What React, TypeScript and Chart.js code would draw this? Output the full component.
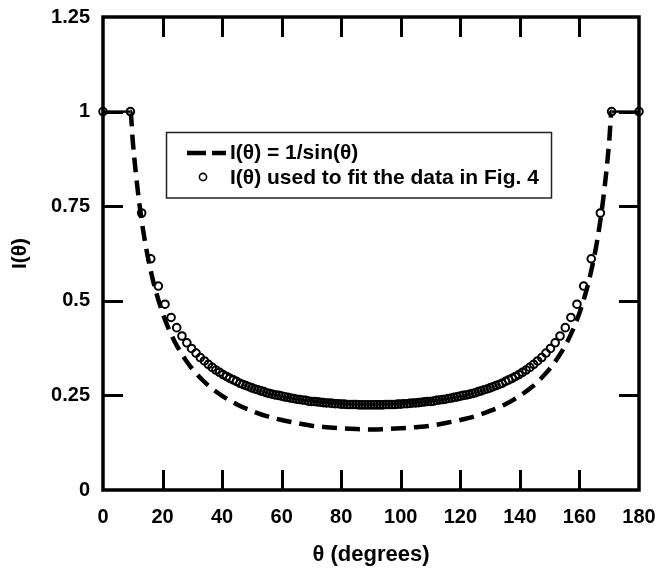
import React, { useEffect, useRef } from "react";
import { Chart, registerables } from "chart.js";

Chart.register(...registerables);

// ---- data ----
const xTicks = [0, 20, 40, 60, 80, 100, 120, 140, 160, 180];
const yTicks = [0, 0.25, 0.5, 0.75, 1, 1.25];

const legendLabels = ["I(θ) = 1/sin(θ)", "I(θ) used to fit the data in Fig. 4"];
const xTitle = "θ (degrees)";
const yTitle = "I(θ)";

// dashed curve I(θ) = 1/sin(θ) (scaled, capped at 1)
const thetaDash = [
  0, 9.2, 10, 11, 12, 13, 14, 15, 16, 17, 18, 20, 22, 24, 26, 28, 30, 33, 36, 40, 45, 50, 55, 60, 65, 70,
  75, 80, 85, 90, 95, 100, 105, 110, 115, 120, 125, 130, 135, 140, 144, 147, 150, 152, 154, 156, 158,
  160, 162, 163, 164, 165, 166, 167, 168, 169, 170, 170.8, 180,
];
const iDash = [
  1, 1, 0.922, 0.839, 0.77, 0.711, 0.661, 0.618, 0.581, 0.547, 0.518, 0.468, 0.427, 0.393, 0.365, 0.341,
  0.32, 0.294, 0.272, 0.249, 0.226, 0.209, 0.195, 0.185, 0.177, 0.17, 0.166, 0.163, 0.161, 0.16, 0.161,
  0.163, 0.166, 0.17, 0.177, 0.185, 0.195, 0.209, 0.226, 0.249, 0.272, 0.294, 0.32, 0.341, 0.365, 0.393,
  0.427, 0.468, 0.518, 0.547, 0.581, 0.618, 0.661, 0.711, 0.77, 0.839, 0.922, 1, 1,
];

// open circles: I(θ) used to fit the data
const thetaFit = [
  0, 9.2,
  12.98, 16.04, 18.58, 20.83, 22.87, 24.75, 26.51, 28.16, 29.73, 31.24, 32.67, 34.05, 35.37, 36.67,
  37.91, 39.15, 40.33, 41.49, 42.63, 43.74, 44.82,
  46, 47, 48, 49, 50, 51, 52, 53, 54, 55, 56, 57, 58, 59, 60, 61, 62, 63, 64, 65, 66, 67, 68, 69, 70,
  71, 72, 73, 74, 75, 76, 77, 78, 79, 80, 81, 82, 83, 84, 85, 86, 87, 88, 89, 90,
  91, 92, 93, 94, 95, 96, 97, 98, 99, 100, 101, 102, 103, 104, 105, 106, 107, 108, 109, 110, 111, 112,
  113, 114, 115, 116, 117, 118, 119, 120, 121, 122, 123, 124, 125, 126, 127, 128, 129, 130, 131, 132,
  133, 134,
  135.18, 136.26, 137.37, 138.51, 139.67, 140.85, 142.09, 143.33, 144.63, 145.95, 147.33, 148.76,
  150.27, 151.84, 153.49, 155.25, 157.13, 159.17, 161.42, 163.96, 167.02,
  170.8, 180,
];
const iFit = [
  1, 1,
  0.732, 0.611, 0.539, 0.491, 0.456, 0.429, 0.407, 0.389, 0.374, 0.362, 0.35, 0.341, 0.332, 0.324,
  0.317, 0.311, 0.305, 0.3, 0.295, 0.291, 0.287,
  0.282, 0.279, 0.276, 0.273, 0.27, 0.267, 0.265, 0.262, 0.26, 0.257, 0.255, 0.253, 0.251, 0.25, 0.248,
  0.246, 0.245, 0.243, 0.242, 0.24, 0.239, 0.238, 0.237, 0.235, 0.234, 0.234, 0.233, 0.232, 0.231, 0.23,
  0.23, 0.229, 0.228, 0.228, 0.227, 0.227, 0.226, 0.226, 0.226, 0.226, 0.225, 0.225, 0.225, 0.225, 0.225,
  0.225, 0.225, 0.225, 0.225, 0.226, 0.226, 0.226, 0.226, 0.227, 0.227, 0.228, 0.228, 0.229, 0.23, 0.23,
  0.231, 0.232, 0.233, 0.234, 0.234, 0.235, 0.237, 0.238, 0.239, 0.24, 0.242, 0.243, 0.245, 0.246, 0.248,
  0.25, 0.251, 0.253, 0.255, 0.257, 0.26, 0.262, 0.265, 0.267, 0.27, 0.273, 0.276, 0.279, 0.282,
  0.287, 0.291, 0.295, 0.3, 0.305, 0.311, 0.317, 0.324, 0.332, 0.341, 0.35, 0.362, 0.374, 0.389, 0.407,
  0.429, 0.456, 0.491, 0.539, 0.611, 0.732,
  1, 1,
];

const FONT = "'Liberation Sans', Arial, Helvetica, sans-serif";

const framePlugin = {
  id: "frame",
  beforeDatasetsDraw(chart: any) {
    const { ctx, chartArea, scales } = chart;
    const { left, right, top, bottom } = chartArea;
    const x = scales.x;
    const y = scales.y;
    const tickLen = 20;
    ctx.save();
    ctx.strokeStyle = "#000";
    ctx.lineWidth = 3;
    ctx.lineCap = "butt";
    ctx.beginPath();
    xTicks.slice(1, -1).forEach((v) => {
      const px = Math.round(x.getPixelForValue(v)) + 0.5;
      ctx.moveTo(px, bottom);
      ctx.lineTo(px, bottom - tickLen);
      ctx.moveTo(px, top);
      ctx.lineTo(px, top + tickLen);
    });
    yTicks.slice(1, -1).forEach((v) => {
      const py = Math.round(y.getPixelForValue(v)) + 0.5;
      ctx.moveTo(left, py);
      ctx.lineTo(left + tickLen, py);
      ctx.moveTo(right, py);
      ctx.lineTo(right - tickLen, py);
    });
    ctx.stroke();
    ctx.lineWidth = 3.5;
    ctx.strokeRect(left, top, right - left, bottom - top);
    ctx.restore();
  },
};

const legendPlugin = {
  id: "boxLegend",
  afterDatasetsDraw(chart: any) {
    const { ctx } = chart;
    const bx = 166.5, by = 132.5, bw = 385, bh = 65.5;
    ctx.save();
    ctx.fillStyle = "#fff";
    ctx.fillRect(bx, by, bw, bh);
    ctx.strokeStyle = "#222";
    ctx.lineWidth = 1.5;
    ctx.strokeRect(bx, by, bw, bh);

    const row1 = 153;
    const row2 = 178;
    ctx.strokeStyle = "#000";
    ctx.lineWidth = 4.5;
    ctx.setLineDash([19, 6]);
    ctx.beginPath();
    ctx.moveTo(187, row1);
    ctx.lineTo(226, row1);
    ctx.stroke();
    ctx.setLineDash([]);
    ctx.lineWidth = 1.6;
    ctx.beginPath();
    ctx.arc(203, row2 - 1, 3.6, 0, Math.PI * 2);
    ctx.stroke();

    ctx.fillStyle = "#000";
    ctx.font = `bold 21px ${FONT}`;
    ctx.textBaseline = "middle";
    ctx.textAlign = "left";
    ctx.fillText(legendLabels[0], 230, row1);
    ctx.fillText(legendLabels[1], 230, row2);
    ctx.restore();
  },
};

export default function App() {
  const ref = useRef<HTMLCanvasElement | null>(null);

  useEffect(() => {
    if (!ref.current) return;
    const fitData = thetaFit.map((t, i) => ({ x: t, y: iFit[i] }));
    const dashData = thetaDash.map((t, i) => ({ x: t, y: iDash[i] }));
    const chart = new Chart(ref.current, {
      type: "scatter",
      data: {
        datasets: [
          {
            label: legendLabels[1],
            data: fitData,
            showLine: false,
            pointRadius: 3.8,
            pointBorderWidth: 2,
            pointBackgroundColor: "rgba(0,0,0,0)",
            pointBorderColor: "#000",
            borderColor: "#000",
            clip: false as any,
          },
          {
            label: legendLabels[0],
            data: dashData,
            showLine: true,
            pointRadius: 0,
            borderColor: "#000",
            borderWidth: 4.5,
            borderDash: [15, 8],
            cubicInterpolationMode: "monotone",
            segment: {
              borderDash: (c: any) => (c.p0.parsed.y >= 1 && c.p1.parsed.y >= 1 ? [] : [15, 8]),
              borderWidth: (c: any) => (c.p0.parsed.y >= 1 && c.p1.parsed.y >= 1 ? 2.5 : 4.5),
            },
          } as any,
        ],
      },
      options: {
        animation: false,
        responsive: false,
        devicePixelRatio: 1,
        layout: { padding: { top: 17, right: 17, left: 0, bottom: 0 } },
        plugins: {
          legend: { display: false },
          tooltip: { enabled: false },
        },
        scales: {
          x: {
            type: "linear",
            min: 0,
            max: 180,
            afterBuildTicks: (s: any) => {
              s.ticks = xTicks.map((v) => ({ value: v }));
            },
            afterFit: (s: any) => {
              s.height = 82;
              s.paddingLeft = 0;
              s.paddingRight = 0;
            },
            grid: { display: false, drawTicks: false },
            border: { display: false },
            ticks: {
              color: "#000",
              padding: 15,
              font: { family: FONT, size: 20, weight: "bold" },
              callback: (v: any) => String(v),
            },
            title: {
              display: true,
              text: xTitle,
              color: "#000",
              font: { family: FONT, size: 22, weight: "bold" },
              padding: { top: 0, bottom: 4 },
            },
          },
          y: {
            type: "linear",
            min: 0,
            max: 1.25,
            afterBuildTicks: (s: any) => {
              s.ticks = yTicks.map((v) => ({ value: v }));
            },
            afterFit: (s: any) => {
              s.width = 103;
              s.paddingTop = 0;
              s.paddingBottom = 0;
            },
            grid: { display: false, drawTicks: false },
            border: { display: false },
            ticks: {
              color: "#000",
              padding: 13,
              font: { family: FONT, size: 20, weight: "bold" },
              callback: (v: any) => String(v),
            },
            title: {
              display: true,
              text: yTitle,
              color: "#000",
              font: { family: FONT, size: 21, weight: "bold" },
              padding: { top: 8, bottom: 0 },
            },
          },
        },
      },
      plugins: [framePlugin, legendPlugin],
    });
    return () => chart.destroy();
  }, []);

  return (
    <div style={{ position: "absolute", left: 0, top: 0, width: 656, height: 572, background: "#fff" }}>
      <canvas ref={ref} width={656} height={572} style={{ width: 656, height: 572, display: "block" }} />
    </div>
  );
}
